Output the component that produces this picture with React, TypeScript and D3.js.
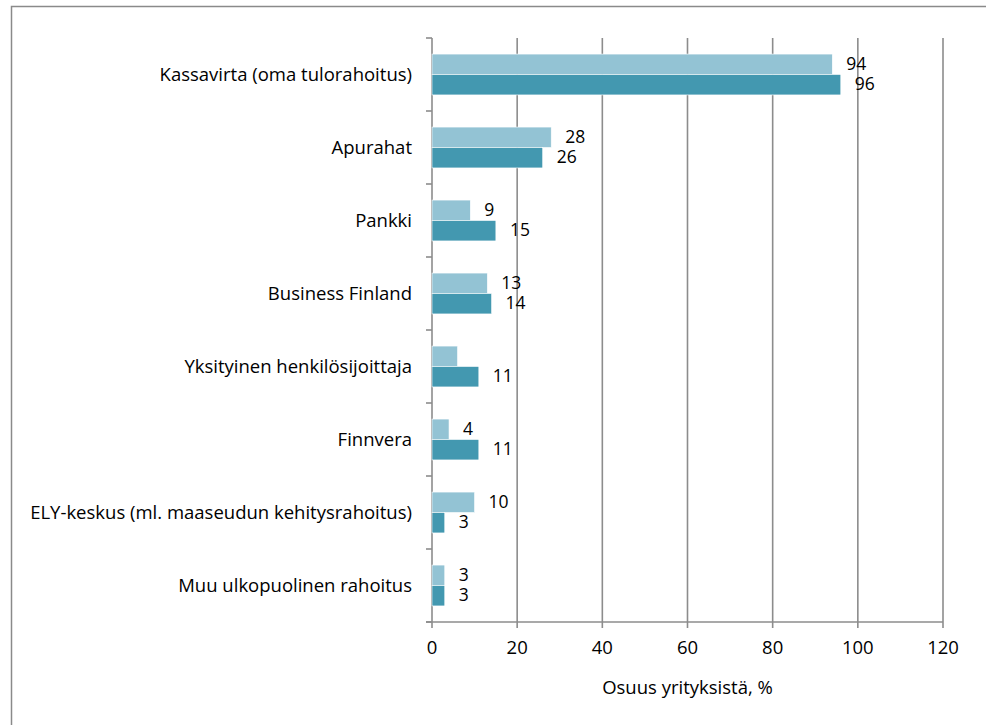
import React from "react";
import * as d3 from "d3";

const categories = [
  "Kassavirta (oma tulorahoitus)",
  "Apurahat",
  "Pankki",
  "Business Finland",
  "Yksityinen henkilösijoittaja",
  "Finnvera",
  "ELY-keskus (ml. maaseudun kehitysrahoitus)",
  "Muu ulkopuolinen rahoitus",
];
const seriesNames = ["a", "b"];
const lightValues = [94, 28, 9, 13, 6, 4, 10, 3];
const darkValues = [96, 26, 15, 14, 11, 11, 3, 3];
const lightLabels: (string | null)[] = ["94", "28", "9", "13", null, "4", "10", "3"];
const darkLabels: (string | null)[] = ["96", "26", "15", "14", "11", "11", "3", "3"];
const xTicks = [0, 20, 40, 60, 80, 100, 120];
const xTitle = "Osuus yrityksistä, %";

const W = 986;
const H = 725;
const left = 432;
const right = 943;
const top = 38;
const bottom = 622;
const FONT = "'Open Sans', sans-serif";
const FS = 18.5;
const colors = ["#93c3d4", "#4398b0"];
const gridColor = "#8c8c8c";

export default function App() {
  const x = d3.scaleLinear().domain([0, 120]).range([left, right]);
  const y = d3
    .scaleBand<string>()
    .domain(categories)
    .range([top, bottom])
    .paddingInner(0.44)
    .paddingOuter(0.22);
  const sub = d3.scaleBand<string>().domain(seriesNames).range([0, y.bandwidth()]);
  const step = y.step();
  const boundaries = d3.range(categories.length + 1).map((i) => top + i * step);
  const series = [
    { key: "a", values: lightValues, labels: lightLabels, color: colors[0] },
    { key: "b", values: darkValues, labels: darkLabels, color: colors[1] },
  ];
  return (
    <div style={{ position: "absolute", left: 0, top: 0 }}>
      <svg width={W} height={H} style={{ display: "block", fontFamily: FONT }}>
        <rect x={0} y={0} width={W} height={H} fill="#fff" />
        <rect x={11.5} y={6.5} width={W + 20} height={H + 20} fill="none" stroke="#8a8a8a" strokeWidth={1.5} />
        {xTicks.map((t) => (
          <line key={"g" + t} x1={x(t)} x2={x(t)} y1={top} y2={bottom + 6} stroke={gridColor} strokeWidth={1.6} />
        ))}
        <line x1={left - 6} x2={right} y1={bottom} y2={bottom} stroke={gridColor} strokeWidth={1.6} />
        {boundaries.map((b, i) => (
          <line key={"yt" + i} x1={left - 6} x2={left} y1={b} y2={b} stroke={gridColor} strokeWidth={1.6} />
        ))}
        {series.map((s) =>
          categories.map((c, i) => {
            const by = (y(c) as number) + (sub(s.key) as number);
            const bh = sub.bandwidth();
            return (
              <g key={s.key + c}>
                <rect x={x(0)} y={by} width={x(s.values[i]) - x(0)} height={bh} fill={s.color} stroke="#ffffff" strokeWidth={0.6} />
                {s.labels[i] !== null && (
                  <text x={x(s.values[i]) + 14} y={by + bh / 2} dy="0.33em" fontSize={FS - 1} fill="#000">
                    {s.labels[i]}
                  </text>
                )}
              </g>
            );
          })
        )}
        {categories.map((c) => (
          <text key={"l" + c} x={left - 20} y={(y(c) as number) + y.bandwidth() / 2} dy="0.33em" textAnchor="end" fontSize={FS} fill="#000">
            {c}
          </text>
        ))}
        {xTicks.map((t) => (
          <text key={"xt" + t} x={x(t)} y={648} dy="0.33em" textAnchor="middle" fontSize={FS} fill="#000">
            {t}
          </text>
        ))}
        <text x={x(60)} y={688} dy="0.33em" textAnchor="middle" fontSize={FS} fill="#000">
          {xTitle}
        </text>
      </svg>
    </div>
  );
}
